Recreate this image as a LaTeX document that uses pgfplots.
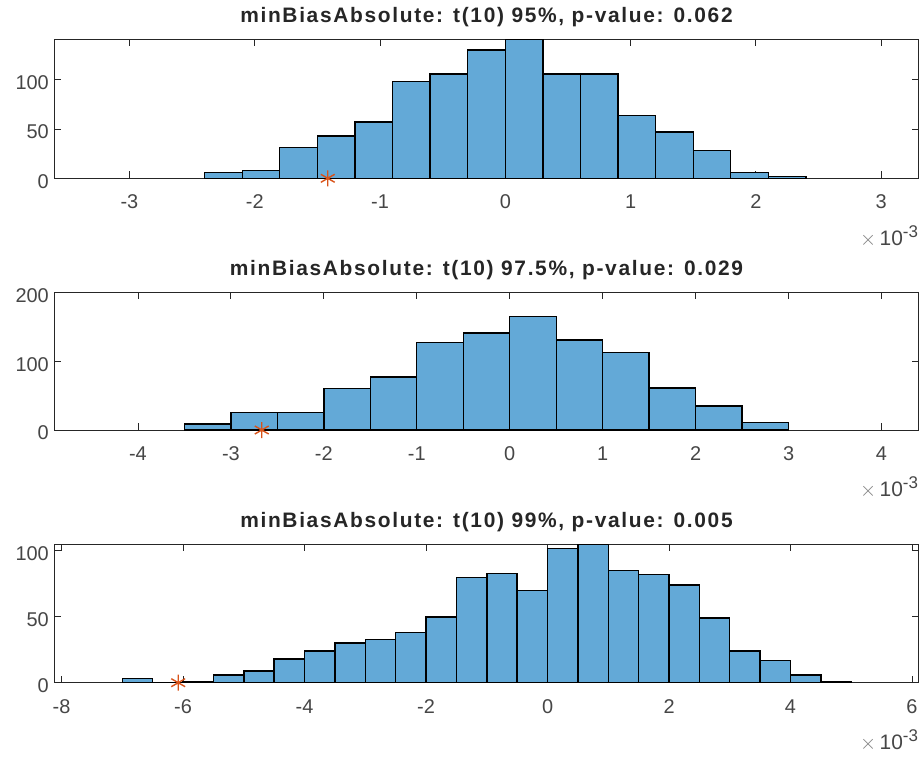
\documentclass[border=0pt]{standalone}
\usepackage{fontspec}
\setmainfont{Liberation Sans}
\newfontfamily\titlefont[LetterSpace=8]{Liberation Sans}
\usepackage{pgfplots}
\pgfplotsset{compat=1.18}

\definecolor{barblue}{RGB}{99,169,215}
\definecolor{starred}{RGB}{217,83,25}
\definecolor{axgray}{RGB}{38,38,38}
\definecolor{lblgray}{RGB}{70,70,70}

\pgfplotsset{
  hist/.style={
    scale only axis, width=864.4bp, height=138.5bp,
    anchor=north west, clip mode=individual,
    ymin=0,
    axis line style={axgray, line width=0.9bp},
    tick style={axgray, line width=0.9bp},
    tick align=inside, major tick length=7bp,
    ticklabel style={font=\fontsize{20}{22}\selectfont, text=lblgray},
    /pgf/number format/assume math mode=true,
    xticklabel style={anchor=base, yshift=-30.5bp},
    yticklabel style={xshift=-2bp, yshift=-3bp},
    title style={font=\fontsize{21}{24}\selectfont\titlefont\bfseries, text=axgray,
      at={(0.5,1)}, anchor=base, yshift=11bp},
  },
  bars/.style={ybar interval, fill=barblue, draw=black, line width=1.4bp},
  star/.style={only marks, mark=asterisk, mark size=8bp, color=starred, line width=1.4bp},
}
% exponent label under the right end of each x axis
\newcommand{\sci}{\node[anchor=base east, text=lblgray, font=\fontsize{21}{22}\selectfont, inner sep=0pt]
  at (rel axis cs:1,0) [yshift=-66.7bp, xshift=-0.5bp] {{\color{gray}$\times$}\,10\raisebox{8bp}{\fontsize{17}{18}\selectfont -3}};}

\begin{document}
\begin{tikzpicture}

\begin{axis}[hist, at={(54.3bp,-39.3bp)}, height=139bp,
  xmin=-3.6, xmax=3.3, ymax=141,
  xtick={-3,-2,-1,0,1,2,3}, xticklabels={-3,-2,-1,0,1,2,3},
  ytick={0,50,100},
  title={minBiasAbsolute: t(10) 95\%, p-value: 0.062}]
\addplot[bars] coordinates {(-2.4,6) (-2.1,8) (-1.8,31) (-1.5,43) (-1.2,57) (-0.9,98)
  (-0.6,106) (-0.3,130) (0,141) (0.3,106) (0.6,106) (0.9,64) (1.2,47) (1.5,28)
  (1.8,6) (2.1,2) (2.4,0)};
\addplot[star] coordinates {(-1.417,0)};
\sci
\end{axis}

\begin{axis}[hist, at={(54.3bp,-292.3bp)}, height=137.7bp,
  xmin=-4.9, xmax=4.4, ymax=200,
  xtick={-4,-3,-2,-1,0,1,2,3,4}, xticklabels={-4,-3,-2,-1,0,1,2,3,4},
  ytick={0,100,200},
  title={minBiasAbsolute: t(10) 97.5\%, p-value: 0.029}]
\addplot[bars] coordinates {(-3.5,9) (-3,25) (-2.5,25) (-2,60) (-1.5,77) (-1,127)
  (-0.5,141) (0,165) (0.5,131) (1,113) (1.5,61) (2,35) (2.5,11) (3,0)};
\addplot[star] coordinates {(-2.668,0)};
\sci
\end{axis}

\begin{axis}[hist, at={(54.3bp,-544.3bp)}, height=138.4bp,
  xmin=-8.12, xmax=6.11, ymax=105,
  xtick={-8,-6,-4,-2,0,2,4,6}, xticklabels={-8,-6,-4,-2,0,2,4,6},
  ytick={0,50,100},
  title={minBiasAbsolute: t(10) 99\%, p-value: 0.005}]
\addplot[bars] coordinates {(-7,3) (-6.5,0) (-6,1) (-5.5,6) (-5,9) (-4.5,18) (-4,24)
  (-3.5,30) (-3,33) (-2.5,38) (-2,50) (-1.5,80) (-1,83) (-0.5,70) (0,102) (0.5,105)
  (1,85) (1.5,82) (2,74) (2.5,49) (3,24) (3.5,17) (4,6) (4.5,1) (5,0)};
\addplot[star] coordinates {(-6.08,0)};
\sci
\end{axis}

\pgfresetboundingbox
\path[use as bounding box] (0,0) rectangle (924bp,-762bp);
\end{tikzpicture}
\end{document}
